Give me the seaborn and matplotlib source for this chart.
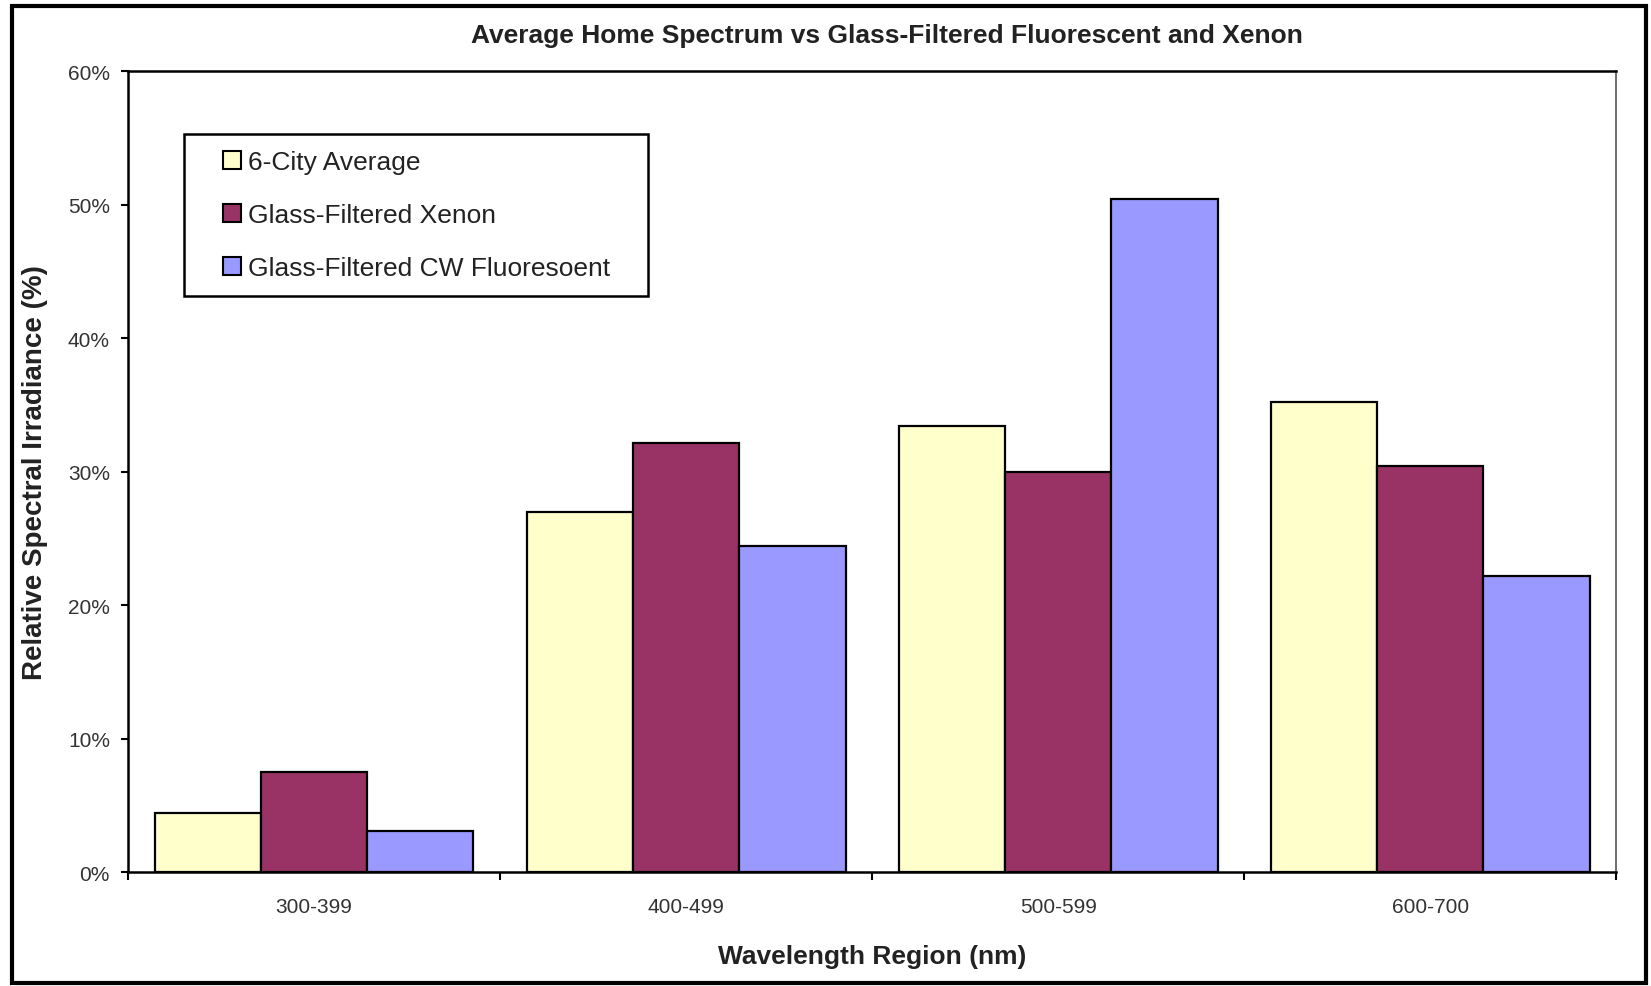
import pandas as pd
import matplotlib.pyplot as plt
import seaborn as sns
from matplotlib.patches import Rectangle
from matplotlib.ticker import FixedLocator
from matplotlib.legend_handler import HandlerPatch

# data (percent)
regions = ['300-399', '400-499', '500-599', '600-700']
series_names = ['6-City Average', 'Glass-Filtered Xenon', 'Glass-Filtered CW Fluoresoent']
city_avg = [4.4, 27.0, 33.4, 35.2]
xenon = [7.5, 32.1, 30.0, 30.4]
fluorescent = [3.1, 24.4, 50.4, 22.2]
y_ticks = [0, 10, 20, 30, 40, 50, 60]
y_labels = ['0%', '10%', '20%', '30%', '40%', '50%', '60%']
colors = ['#FFFFCC', '#993366', '#9999FF']

df = pd.DataFrame({
    'region': regions * 3,
    'value': city_avg + xenon + fluorescent,
    'series': [series_names[0]] * 4 + [series_names[1]] * 4 + [series_names[2]] * 4,
})


def square_patch(legend, orig_handle, xdescent, ydescent, width, height, fontsize):
    # small square pushed to the right of the handle box
    side = height
    return Rectangle((width - side - xdescent, -ydescent), side, side)


sns.set_style('white')
plt.rcParams['font.family'] = ['Liberation Sans', 'DejaVu Sans']

fig = plt.figure(figsize=(16.51, 9.87), dpi=100)
ax = fig.add_axes([0.0775, 0.1155, 0.9015, 0.8115])

sns.barplot(data=df, x='region', y='value', hue='series', order=regions,
            hue_order=series_names, palette=colors, width=0.857, gap=0,
            edgecolor='black', linewidth=1.6, saturation=1, ax=ax)

ax.set_ylim(0, 60)
ax.set_xlim(-0.5, 3.5)
ax.set_yticks(y_ticks)
ax.set_yticklabels(y_labels, fontsize=15, color='#333333')
ax.tick_params(axis='y', direction='out', length=5, width=1.5, color='black', left=True, pad=8)
ax.tick_params(axis='x', which='major', length=0, labelsize=15, labelcolor='#333333', pad=18)
ax.xaxis.set_minor_locator(FixedLocator([-0.5, 0.5, 1.5, 2.5, 3.5]))
ax.tick_params(axis='x', which='minor', direction='out', length=6, width=1.5, color='black', bottom=True)

for side in ['left', 'bottom', 'top']:
    ax.spines[side].set_color('black')
    ax.spines[side].set_linewidth(1.8)
ax.spines['right'].set_color('#555555')
ax.spines['right'].set_linewidth(1.2)

ax.set_xlabel('Wavelength Region (nm)', fontsize=19, fontweight='bold', color='#222222', labelpad=20)
ax.set_ylabel('Relative Spectral Irradiance (%)', fontsize=20, fontweight='bold', color='#222222', labelpad=14)

handles, labels = ax.get_legend_handles_labels()
leg = ax.legend(handles, labels, loc='upper left', bbox_to_anchor=(0.0376, 0.0, 0.312, 0.921),
                mode='expand', fontsize=19,
                frameon=True, fancybox=False, framealpha=1, edgecolor='black',
                handlelength=1.55, handleheight=0.68, handletextpad=0.28,
                labelspacing=1.1, borderpad=0.6, borderaxespad=0,
                handler_map={Rectangle: HandlerPatch(patch_func=square_patch)})
leg.get_frame().set_linewidth(1.8)
for t in leg.get_texts():
    t.set_color('#222222')
for h in leg.legend_handles:
    h.set_edgecolor('black')
    h.set_linewidth(1.5)

fig.text(0.537, 0.964, 'Average Home Spectrum vs Glass-Filtered Fluorescent and Xenon',
         ha='center', va='center', fontsize=19, fontweight='bold', color='#222222')

fig.patches.append(Rectangle((0.007, 0.003), 0.99, 0.99, transform=fig.transFigure,
                             fill=False, edgecolor='black', linewidth=3))

fig.savefig('out.png', dpi=100)
